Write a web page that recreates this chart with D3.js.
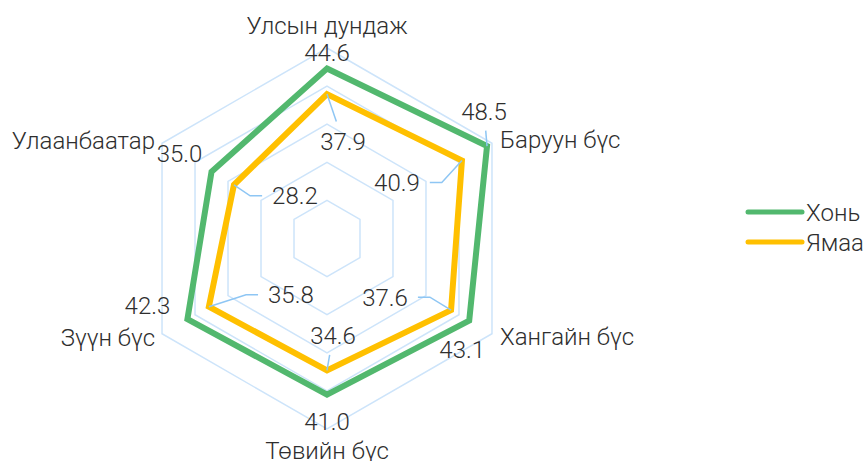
<!DOCTYPE html>
<html>
<head>
<meta charset="utf-8">
<script src="https://cdn.jsdelivr.net/npm/d3@7"></script>
<style>
  html, body { margin: 0; padding: 0; background: #fff; }
  svg text { font-family: Roboto, "Noto Sans", sans-serif; font-weight: 300; fill: #2e2e2e; }
</style>
</head>
<body>
<svg id="chart" width="866" height="461"></svg>
<script>
// Regions (axes, clockwise from top)
const categories = ["Улсын дундаж", "Баруун бүс", "Хангайн бүс", "Төвийн бүс", "Зүүн бүс", "Улаанбаатар"];
const seriesNames = ["Хонь", "Ямаа"];
const sheepValues = [44.6, 48.5, 43.1, 41.0, 42.3, 35.0];
const goatValues  = [37.9, 40.9, 37.6, 34.6, 35.8, 28.2];
const gridTicks = [10, 20, 30, 40, 50];

// Layout
const W = 866, H = 461;
const cx = 327, cy = 238.5, R = 190.5;
const colors = ["#52B86E", "#FFC000"];
const gridColor = "#CDE4FA";
const leaderColor = "#8EC6F4";
const fontSize = 24;
const capH = fontSize * 0.711;

// Value label offsets (dx, dy) from each data point to the label centre, per series
const sheepLabelOffsets = [[0, -16], [-3, -35], [-7, 29], [0, 27], [-40, -14], [-32, -18]];
const goatLabelOffsets  = [[16, 47], [-65, 22], [-66, -13], [6, -35], [82, -12], [61, 11]];

const svg = d3.select("#chart");
const r = d3.scaleLinear().domain([0, 50]).range([0, R]);
const angle = d3.scalePoint().domain(categories).range([0, 360 * (categories.length - 1) / categories.length]);
const toXY = (cat, v) => {
  const a = angle(cat) * Math.PI / 180;
  return [cx + r(v) * Math.sin(a), cy - r(v) * Math.cos(a)];
};

// Hexagonal grid rings
const ring = d3.line().curve(d3.curveLinearClosed);
svg.append("g").selectAll("path").data(gridTicks).join("path")
  .attr("d", t => ring(categories.map(c => toXY(c, t))))
  .attr("fill", "none")
  .attr("stroke", gridColor)
  .attr("stroke-width", 1.5);

// Series polygons
const series = [
  { name: seriesNames[0], values: sheepValues, offsets: sheepLabelOffsets, color: colors[0] },
  { name: seriesNames[1], values: goatValues, offsets: goatLabelOffsets, color: colors[1] }
];
svg.append("g").selectAll("path").data(series).join("path")
  .attr("d", s => ring(categories.map((c, i) => toXY(c, s.values[i]))))
  .attr("fill", "none")
  .attr("stroke", s => s.color)
  .attr("stroke-width", 6)
  .attr("stroke-linejoin", "miter");

// Category labels outside the outer ring
const catG = svg.append("g");
categories.forEach(c => {
  const [x, y] = toXY(c, 50);
  const a = angle(c);
  let tx = x, ty = y, anchor = "middle";
  if (a === 0) { ty = y - 23; }
  else if (a === 180) { ty = y + 21; }
  else if (a < 180) { tx = x + 8; anchor = "start"; ty = y + (a < 90 ? -4 : 3); }
  else { tx = x - 7; anchor = "end"; ty = y + (a > 270 ? -3 : 4); }
  catG.append("text")
    .attr("x", tx).attr("y", ty)
    .attr("text-anchor", anchor)
    .attr("dy", "0.355em")
    .attr("font-size", fontSize)
    .text(c);
});

// Value labels with leader lines
const leaderG = svg.append("g");
const labelG = svg.append("g");
series.forEach(s => {
  categories.forEach((c, i) => {
    const [px, py] = toXY(c, s.values[i]);
    const [dx, dy] = s.offsets[i];
    const lx = px + dx, ly = py + dy;
    const t = labelG.append("text")
      .attr("x", lx).attr("y", ly)
      .attr("text-anchor", "middle")
      .attr("dy", "0.355em")
      .attr("font-size", fontSize)
      .text(s.values[i].toFixed(1));
    const bb = t.node().getBBox();
    const box = { x0: bb.x, x1: bb.x + bb.width, y0: ly - capH / 2, y1: ly + capH / 2 };

    // only labels moved well away from their point get a leader
    const gx = Math.max(box.x0 - px, 0, px - box.x1);
    const gy = Math.max(box.y0 - py, 0, py - box.y1);
    if (Math.hypot(gx, gy) < 23) return;
    let pts;
    if (px > box.x1 + 12 || px < box.x0 - 12) {
      // horizontal run into the side of the label, then an angled segment to the point
      const right = px > box.x1;
      const end = right ? box.x1 + 10 : box.x0 - 10;
      const elbow = right ? end + 12 : end - 12;
      pts = [[px, py], [elbow, ly], [end, ly]];
    } else {
      // straight segment towards the label, stopping short of the text
      const ey = py < box.y0 ? box.y0 - 11 : box.y1 + 11;
      const k = (ey - py) / (ly - py);
      pts = [[px, py], [px + (lx - px) * k, ey]];
    }
    leaderG.append("path")
      .attr("d", d3.line()(pts))
      .attr("fill", "none")
      .attr("stroke", leaderColor)
      .attr("stroke-width", 1.5);
  });
});

// Legend
const legend = svg.append("g");
series.forEach((s, i) => {
  const y = 212 + i * 30;
  legend.append("line")
    .attr("x1", 748).attr("x2", 802).attr("y1", y).attr("y2", y)
    .attr("stroke", s.color).attr("stroke-width", 5).attr("stroke-linecap", "round");
  legend.append("text")
    .attr("x", 806).attr("y", y).attr("dy", "0.355em")
    .attr("font-size", fontSize)
    .text(s.name);
});
</script>
</body>
</html>
